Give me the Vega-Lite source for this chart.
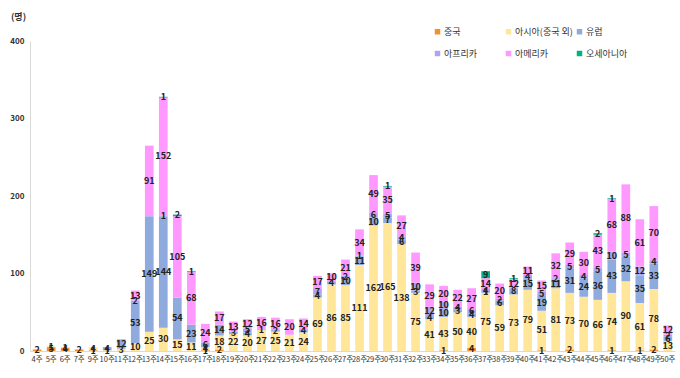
{
  "$schema": "https://vega.github.io/schema/vega-lite/v6.json",
  "autosize": {"type": "none"},
  "width": 645,
  "height": 310,
  "padding": {"left": 30, "top": 41, "right": 5, "bottom": 27},
  "background": "white",
  "config": {"view": {"stroke": null}, "font": "Noto Sans CJK KR"},
  "data": {"values": [
    {"w":"4주","c":"중국","v":2},
    {"w":"5주","c":"중국","v":5},{"w":"5주","c":"아시아(중국 외)","v":1},
    {"w":"6주","c":"중국","v":4},{"w":"6주","c":"아시아(중국 외)","v":1},
    {"w":"7주","c":"중국","v":2},
    {"w":"9주","c":"중국","v":1},{"w":"9주","c":"아시아(중국 외)","v":4},
    {"w":"10주","c":"아시아(중국 외)","v":1},{"w":"10주","c":"유럽","v":4},
    {"w":"11주","c":"아시아(중국 외)","v":3},{"w":"11주","c":"유럽","v":12},
    {"w":"12주","c":"아시아(중국 외)","v":10},{"w":"12주","c":"유럽","v":53},{"w":"12주","c":"아프리카","v":2},{"w":"12주","c":"아메리카","v":13},
    {"w":"13주","c":"아시아(중국 외)","v":25},{"w":"13주","c":"유럽","v":149},{"w":"13주","c":"아메리카","v":91},
    {"w":"14주","c":"아시아(중국 외)","v":30},{"w":"14주","c":"유럽","v":144},{"w":"14주","c":"아프리카","v":1},{"w":"14주","c":"아메리카","v":152},{"w":"14주","c":"오세아니아","v":1},
    {"w":"15주","c":"아시아(중국 외)","v":15},{"w":"15주","c":"유럽","v":54},{"w":"15주","c":"아메리카","v":105},{"w":"15주","c":"오세아니아","v":2},
    {"w":"16주","c":"아시아(중국 외)","v":11},{"w":"16주","c":"유럽","v":23},{"w":"16주","c":"아메리카","v":68},{"w":"16주","c":"오세아니아","v":1},
    {"w":"17주","c":"중국","v":1},{"w":"17주","c":"아시아(중국 외)","v":4},{"w":"17주","c":"유럽","v":6},{"w":"17주","c":"아메리카","v":24},
    {"w":"18주","c":"중국","v":2},{"w":"18주","c":"아시아(중국 외)","v":18},{"w":"18주","c":"유럽","v":14},{"w":"18주","c":"아메리카","v":17},
    {"w":"19주","c":"아시아(중국 외)","v":22},{"w":"19주","c":"유럽","v":3},{"w":"19주","c":"아메리카","v":13},
    {"w":"20주","c":"아시아(중국 외)","v":20},{"w":"20주","c":"유럽","v":4},{"w":"20주","c":"아프리카","v":5},{"w":"20주","c":"아메리카","v":12},
    {"w":"21주","c":"아시아(중국 외)","v":27},{"w":"21주","c":"유럽","v":1},{"w":"21주","c":"아메리카","v":16},
    {"w":"22주","c":"아시아(중국 외)","v":25},{"w":"22주","c":"유럽","v":2},{"w":"22주","c":"아메리카","v":16},
    {"w":"23주","c":"아시아(중국 외)","v":21},{"w":"23주","c":"아메리카","v":20},
    {"w":"24주","c":"아시아(중국 외)","v":24},{"w":"24주","c":"유럽","v":4},{"w":"24주","c":"아메리카","v":14},
    {"w":"25주","c":"아시아(중국 외)","v":69},{"w":"25주","c":"유럽","v":4},{"w":"25주","c":"아프리카","v":7},{"w":"25주","c":"아메리카","v":17},
    {"w":"26주","c":"아시아(중국 외)","v":86},{"w":"26주","c":"유럽","v":4},{"w":"26주","c":"아메리카","v":10},
    {"w":"27주","c":"아시아(중국 외)","v":85},{"w":"27주","c":"유럽","v":10},{"w":"27주","c":"아프리카","v":2},{"w":"27주","c":"아메리카","v":21},
    {"w":"28주","c":"아시아(중국 외)","v":111},{"w":"28주","c":"유럽","v":11},{"w":"28주","c":"아프리카","v":1},{"w":"28주","c":"아메리카","v":34},
    {"w":"29주","c":"아시아(중국 외)","v":162},{"w":"29주","c":"유럽","v":10},{"w":"29주","c":"아프리카","v":6},{"w":"29주","c":"아메리카","v":49},
    {"w":"30주","c":"아시아(중국 외)","v":165},{"w":"30주","c":"유럽","v":7},{"w":"30주","c":"아프리카","v":5},{"w":"30주","c":"아메리카","v":35},{"w":"30주","c":"오세아니아","v":1},
    {"w":"31주","c":"아시아(중국 외)","v":138},{"w":"31주","c":"유럽","v":6},{"w":"31주","c":"아프리카","v":4},{"w":"31주","c":"아메리카","v":27},
    {"w":"32주","c":"아시아(중국 외)","v":75},{"w":"32주","c":"유럽","v":3},{"w":"32주","c":"아프리카","v":10},{"w":"32주","c":"아메리카","v":39},
    {"w":"33주","c":"아시아(중국 외)","v":41},{"w":"33주","c":"유럽","v":4},{"w":"33주","c":"아프리카","v":12},{"w":"33주","c":"아메리카","v":29},
    {"w":"34주","c":"중국","v":1},{"w":"34주","c":"아시아(중국 외)","v":43},{"w":"34주","c":"유럽","v":10},{"w":"34주","c":"아프리카","v":10},{"w":"34주","c":"아메리카","v":20},
    {"w":"35주","c":"아시아(중국 외)","v":50},{"w":"35주","c":"유럽","v":3},{"w":"35주","c":"아프리카","v":4},{"w":"35주","c":"아메리카","v":22},
    {"w":"36주","c":"중국","v":4},{"w":"36주","c":"아시아(중국 외)","v":40},{"w":"36주","c":"유럽","v":4},{"w":"36주","c":"아프리카","v":6},{"w":"36주","c":"아메리카","v":27},
    {"w":"37주","c":"아시아(중국 외)","v":75},{"w":"37주","c":"유럽","v":1},{"w":"37주","c":"아프리카","v":4},{"w":"37주","c":"아메리카","v":14},{"w":"37주","c":"오세아니아","v":9},
    {"w":"38주","c":"아시아(중국 외)","v":59},{"w":"38주","c":"유럽","v":6},{"w":"38주","c":"아프리카","v":2},{"w":"38주","c":"아메리카","v":20},
    {"w":"39주","c":"아시아(중국 외)","v":73},{"w":"39주","c":"유럽","v":8},{"w":"39주","c":"아메리카","v":12},{"w":"39주","c":"오세아니아","v":1},
    {"w":"40주","c":"아시아(중국 외)","v":79},{"w":"40주","c":"유럽","v":15},{"w":"40주","c":"아프리카","v":4},{"w":"40주","c":"아메리카","v":11},
    {"w":"41주","c":"중국","v":1},{"w":"41주","c":"아시아(중국 외)","v":51},{"w":"41주","c":"유럽","v":19},{"w":"41주","c":"아프리카","v":5},{"w":"41주","c":"아메리카","v":15},
    {"w":"42주","c":"아시아(중국 외)","v":81},{"w":"42주","c":"유럽","v":11},{"w":"42주","c":"아프리카","v":2},{"w":"42주","c":"아메리카","v":32},
    {"w":"43주","c":"중국","v":2},{"w":"43주","c":"아시아(중국 외)","v":73},{"w":"43주","c":"유럽","v":31},{"w":"43주","c":"아프리카","v":5},{"w":"43주","c":"아메리카","v":29},
    {"w":"44주","c":"아시아(중국 외)","v":70},{"w":"44주","c":"유럽","v":24},{"w":"44주","c":"아프리카","v":4},{"w":"44주","c":"아메리카","v":30},
    {"w":"45주","c":"아시아(중국 외)","v":66},{"w":"45주","c":"유럽","v":36},{"w":"45주","c":"아프리카","v":5},{"w":"45주","c":"아메리카","v":43},{"w":"45주","c":"오세아니아","v":2},
    {"w":"46주","c":"중국","v":1},{"w":"46주","c":"아시아(중국 외)","v":74},{"w":"46주","c":"유럽","v":43},{"w":"46주","c":"아프리카","v":10},{"w":"46주","c":"아메리카","v":68},{"w":"46주","c":"오세아니아","v":1},
    {"w":"47주","c":"아시아(중국 외)","v":90},{"w":"47주","c":"유럽","v":32},{"w":"47주","c":"아프리카","v":5},{"w":"47주","c":"아메리카","v":88},
    {"w":"48주","c":"중국","v":1},{"w":"48주","c":"아시아(중국 외)","v":61},{"w":"48주","c":"유럽","v":35},{"w":"48주","c":"아프리카","v":12},{"w":"48주","c":"아메리카","v":61},
    {"w":"49주","c":"중국","v":2},{"w":"49주","c":"아시아(중국 외)","v":78},{"w":"49주","c":"유럽","v":33},{"w":"49주","c":"아프리카","v":4},{"w":"49주","c":"아메리카","v":70},
    {"w":"50주","c":"아시아(중국 외)","v":13},{"w":"50주","c":"유럽","v":6},{"w":"50주","c":"아프리카","v":2},{"w":"50주","c":"아메리카","v":12}
  ]},
  "transform": [
    {"calculate": "indexof(['중국','아시아(중국 외)','유럽','아프리카','아메리카','오세아니아'], datum.c)", "as": "o"},
    {"stack": "v", "groupby": ["w"], "sort": [{"field": "o", "order": "ascending"}], "as": ["y0", "y1"]},
    {"calculate": "(datum.y0 + datum.y1) / 2", "as": "ym"}
  ],
  "encoding": {
    "x": {
      "field": "w", "type": "nominal", "sort": null,
      "scale": {"paddingInner": 0.38, "paddingOuter": 0.2},
      "axis": {"title": null, "labelAngle": 0, "labelFontSize": 7.5, "labelColor": "#333", "labelPadding": 4,
               "ticks": false, "domainColor": "#d9d9d9", "labelFont": "Noto Sans CJK KR"}
    }
  },
  "layer": [
    {
      "mark": {"type": "bar"},
      "encoding": {
        "y": {"field": "y1", "type": "quantitative",
              "scale": {"domain": [0, 400]},
              "axis": {"title": "(명)", "titleAngle": 0, "titleX": -12, "titleY": -20, "titleFontSize": 9, "titleFontWeight": "bold", "titleColor": "#333",
                       "values": [0,50,100,150,200,250,300,350,400], "grid": false, "ticks": false,
                       "labelFontSize": 8, "labelFontWeight": "bold", "labelColor": "#333", "labelPadding": 6,
                       "domainColor": "#d9d9d9"}},
        "y2": {"field": "y0"},
        "color": {"field": "c", "type": "nominal",
                  "scale": {"domain": ["중국","아시아(중국 외)","유럽","아프리카","아메리카","오세아니아"],
                            "range": ["#F4902C","#FFE699","#8FAADC","#ABA5F3","#FF99FF","#00B386"]},
                  "legend": {"title": null, "orient": "none", "legendX": 403, "legendY": -14, "columns": 3,
                             "direction": "horizontal",
                             "gridAlign": "all", "columnPadding": 2, "rowPadding": 12,
                             "symbolType": "square", "symbolSize": 30, "symbolStrokeWidth": 0,
                             "labelFontSize": 9, "labelColor": "#333", "labelOffset": 2}}
      }
    },
    {
      "transform": [{"filter": "datum.v > 0"}],
      "mark": {"type": "text", "fontSize": 9, "fontWeight": "bold", "color": "#222", "baseline": "middle"},
      "encoding": {
        "y": {"field": "ym", "type": "quantitative"},
        "text": {"field": "v", "type": "quantitative"}
      }
    }
  ]
}
